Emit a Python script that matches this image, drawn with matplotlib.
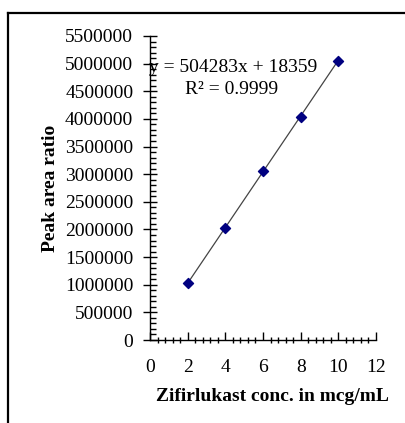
import numpy as np
import matplotlib
matplotlib.use('Agg')
import matplotlib.pyplot as plt
from matplotlib.ticker import MultipleLocator
from matplotlib.lines import Line2D

# calibration data
conc = [2, 4, 6, 8, 10]
peak_ratio = [1036000, 2020000, 3056000, 4038000, 5045000]
slope = 504283
intercept = 18359
r2 = 0.9999

x_ticks = [0, 2, 4, 6, 8, 10, 12]
y_ticks = list(range(0, 5500001, 500000))

plt.rcParams['font.family'] = ['Liberation Serif', 'DejaVu Serif']

fig = plt.figure(figsize=(4.06, 4.23), dpi=100)
ax = fig.add_axes([150 / 406, 83 / 423, 226 / 406, 304 / 423])

# outer frame (top and left only)
fig.add_artist(Line2D([8 / 406, 1.0], [1 - 13.5 / 423, 1 - 13.5 / 423],
                      transform=fig.transFigure, color='black', lw=1.6))
fig.add_artist(Line2D([8.5 / 406, 8.5 / 406], [0, 1 - 13.5 / 423],
                      transform=fig.transFigure, color='black', lw=1.6))

xs = np.array([conc[0], conc[-1]])
ax.plot(xs, slope * xs + intercept, color='#444444', lw=0.9, zorder=2)
ax.scatter(conc, peak_ratio, marker='D', s=26, color='#000080', zorder=3)

ax.set_xlim(0, 12)
ax.set_ylim(0, 5500000)
ax.set_xticks(x_ticks)
ax.set_yticks(y_ticks)
ax.set_yticklabels([str(v) for v in y_ticks])
ax.xaxis.set_minor_locator(MultipleLocator(0.4))
ax.yaxis.set_minor_locator(MultipleLocator(100000))

ax.spines['top'].set_visible(False)
ax.spines['right'].set_visible(False)
ax.spines['left'].set_linewidth(1.0)
ax.spines['bottom'].set_linewidth(1.0)

ax.tick_params(axis='x', which='major', direction='in', length=6, width=1,
               labelsize=14, pad=14)
ax.tick_params(axis='x', which='minor', direction='inout', length=5, width=1)
ax.tick_params(axis='y', which='major', direction='inout', length=10, width=1,
               labelsize=14, pad=7)
ax.tick_params(axis='y', which='minor', direction='in', length=4, width=1)

ax.set_xlabel('Zifirlukast conc. in mcg/mL', fontsize=14, fontweight='bold',
              labelpad=8)
ax.xaxis.label.set_x(0.54)
ax.set_ylabel('Peak area ratio', fontsize=14, fontweight='bold', labelpad=4)

ax.text(-0.05, 4930000, 'y = 504283x + 18359', fontsize=14, ha='left',
        va='center')
ax.text(4.33, 4540000, 'R² = 0.9999', fontsize=14, ha='center', va='center')

fig.savefig('out.png', dpi=100)
